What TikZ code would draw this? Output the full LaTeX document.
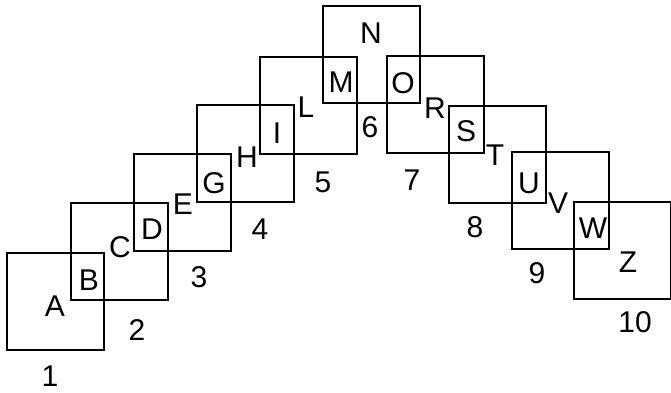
\documentclass[tikz,border=0pt]{standalone}
\usepackage{fontspec}
\setmainfont{Liberation Sans}
\begin{document}
\begin{tikzpicture}[x=1pt,y=-1pt,
  sq/.style={draw=black,line width=2pt,minimum size=97pt,inner sep=0pt,outer sep=0pt},
  lbl/.style={inner sep=0pt,font=\fontsize{30}{32}\selectfont}]
\useasboundingbox (0,0) rectangle (671,392);
\node[sq] (s1) at (55.5,301.5) {};
\node[sq] (s2) at (119.5,251.5) {};
\node[sq] (s3) at (182.5,202.5) {};
\node[sq] (s4) at (245.5,153.5) {};
\node[sq] (s5) at (308.5,105.5) {};
\node[sq] (s6) at (371.5,54.5) {};
\node[sq] (s7) at (435.5,104.5) {};
\node[sq] (s8) at (497.5,154.5) {};
\node[sq] (s9) at (560.5,200.5) {};
\node[sq] (s10) at (622.5,250.5) {};
\node[lbl] (A) at (55,306) {A};
\node[lbl] (B) at (89,280) {B};
\node[lbl] (C) at (120,247) {C};
\node[lbl] (D) at (152,229) {D};
\node[lbl] (E) at (183,204) {E};
\node[lbl] (G) at (214,183) {G};
\node[lbl] (H) at (247,157) {H};
\node[lbl] (I) at (277,133) {I};
\node[lbl] (L) at (306,107) {L};
\node[lbl] (M) at (341,82) {M};
\node[lbl] (N) at (371,33) {N};
\node[lbl] (O) at (403,83) {O};
\node[lbl] (R) at (435,108) {R};
\node[lbl] (S) at (466,131) {S};
\node[lbl] (T) at (495,155) {T};
\node[lbl] (U) at (529,183) {U};
\node[lbl] (V) at (558,203) {V};
\node[lbl] (W) at (593,228) {W};
\node[lbl] (Z) at (628,262) {Z};
\node[lbl] (n1) at (50,376) {1};
\node[lbl] (n2) at (137,330) {2};
\node[lbl] (n3) at (199,277) {3};
\node[lbl] (n4) at (260,229) {4};
\node[lbl] (n5) at (323,182) {5};
\node[lbl] (n6) at (370,127) {6};
\node[lbl] (n7) at (412,180) {7};
\node[lbl] (n8) at (475,227) {8};
\node[lbl] (n9) at (537,273) {9};
\node[lbl] (n10) at (635,322) {10};
\end{tikzpicture}
\end{document}
